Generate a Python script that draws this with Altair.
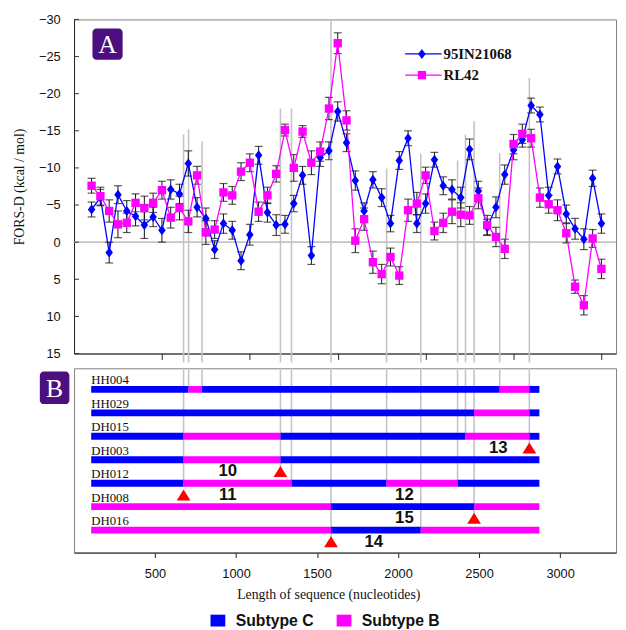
import altair as alt
import pandas as pd

# ---------------- data ----------------
windows = list(range(2, 61))
series_names = ["95IN21068", "RL42"]
series_colors = ["#0000FF", "#FF00FF"]

blue_vals = [-4.4, -6.0, 1.4, -6.4, -4.2, -3.5, -2.3, -3.4, -1.6, -7.1,
             -6.5, -10.6, -4.7, -3.2, 1.0, -2.5, -1.6, 2.5, -1.0, -11.7,
             -4.0, -2.3, -2.4, -5.2, -9.0, 1.8, -11.4, -12.3, -17.6, -13.4,
             -8.3, -4.2, -8.4, -6.0, -2.5, -11.0, -14.0, -2.5, -5.2, -11.1,
             -7.6, -7.1, -6.0, -12.5, -6.9, -2.0, -4.7, -9.1, -12.4, -13.8,
             -18.4, -17.2, -6.3, -10.2, -3.8, -1.8, -0.4, -8.6, -2.5]
pink_vals = [-7.6, -6.2, -4.2, -2.4, -2.6, -5.3, -4.6, -5.3, -7.0, -3.3,
             -4.6, -2.8, -9.0, -1.3, -1.7, -6.7, -6.3, -9.5, -10.7, -4.1,
             -6.3, -9.2, -15.1, -10.0, -14.9, -10.7, -12.2, -18.0, -26.8, -16.4,
             -0.2, -3.1, 2.7, 4.3, 2.0, 4.5, -4.3, -5.2, -9.0, -1.5,
             -2.6, -4.1, -3.7, -3.6, -5.9, -2.3, -0.7, 0.9, -13.2, -14.6,
             -14.0, -6.0, -5.1, -4.3, -1.2, 6.0, 8.5, -0.5, 3.6]
blue_err = [1.0, 1.1, 1.4, 1.2, 1.4, 1.3, 1.8, 1.3, 1.6, 1.3,
            1.3, 1.7, 1.3, 1.4, 1.2, 1.3, 1.2, 1.2, 1.4, 1.2,
            1.3, 1.4, 1.2, 1.1, 1.2, 1.2, 1.2, 1.2, 1.3, 1.2,
            1.3, 1.1, 1.1, 1.2, 1.1, 1.2, 1.0, 1.2, 1.3, 1.0,
            1.2, 1.3, 1.4, 1.4, 1.3, 1.1, 1.4, 1.3, 1.3, 1.0,
            1.0, 1.0, 1.1, 1.0, 1.2, 1.4, 1.4, 1.1, 1.3]
pink_err = [1.0, 1.2, 1.5, 1.8, 1.3, 1.2, 1.6, 1.3, 1.2, 1.4,
            1.6, 1.5, 1.2, 1.6, 1.2, 1.2, 1.2, 1.2, 1.2, 1.3,
            1.1, 1.1, 0.8, 1.8, 0.8, 1.6, 1.3, 1.5, 1.4, 1.3,
            1.6, 1.5, 1.5, 1.3, 1.2, 1.2, 1.5, 1.5, 1.1, 1.2,
            1.3, 1.6, 1.6, 1.2, 1.4, 1.3, 1.3, 1.3, 1.3, 1.3,
            1.2, 1.3, 1.2, 1.4, 1.3, 0.9, 1.3, 1.2, 1.3]

y_ticks = [-30, -25, -20, -15, -10, -5, 0, 5, 10, 15]
a_x_ticks = [10, 20, 30, 40, 50, 60]
b_x_ticks = [500, 1000, 1500, 2000, 2500, 3000]

# breakpoints (nucleotides), top of guide line in panel A, end row in panel B
bp_nt = [676, 707, 790, 1274, 1342, 1586, 1929, 2140, 2367, 2416, 2469, 2627, 2810]
bp_top = [-14.5, -15.2, -13.6, -18.0, -18.0, -30.0, -9.9, -11.9, -11.0, -14.5, -16.3, -12.0, -22.1]
bp_end = [4.9, 0.9, 0.9, 4.4, 4.9, 7.4, 4.9, 6.9, 4.9, 2.9, 6.4, 0.9, 3.4]

isolates = ["HH004", "HH029", "DH015", "DH003", "DH012", "DH008", "DH016"]
row_pos = [0.9, 1.9, 2.9, 3.9, 4.9, 5.9, 6.9]
seg_bounds = [[106, 707, 790, 2627, 2810, 2872],
              [106, 2469, 2810, 2872],
              [106, 676, 1274, 2416, 2810, 2872],
              [106, 676, 1274, 2872],
              [106, 676, 1342, 1929, 2367, 2872],
              [106, 1586, 2469, 2872],
              [106, 1586, 2140, 2872]]
seg_types = ["CBCBC", "CBC", "CBCBC", "CBC", "CBCBC", "BCB", "BCB"]
subtype_names = {"C": "Subtype C", "B": "Subtype B"}
subtype_colors = ["#0000FF", "#FF00FF"]

tri_nt = [2810, 1274, 676, 2469, 1586]
tri_pos = [3.4, 4.4, 5.4, 6.4, 7.4]
num_text = ["13", "10", "11", "12", "15", "14"]
num_nt = [2618, 949, 949, 2039, 2039, 1850]
num_pos = [3.4, 4.4, 5.4, 5.4, 6.4, 7.4]

# ---------------- tables ----------------
rows = []
for name, vals, errs in [(series_names[0], blue_vals, blue_err), (series_names[1], pink_vals, pink_err)]:
    for w, v, e in zip(windows, vals, errs):
        rows.append({"win": w, "val": v, "lo": v - e, "hi": v + e, "series": name})
fors = pd.DataFrame(rows)
bp_df = pd.DataFrame({"nt": bp_nt, "top": bp_top, "end": bp_end})
ytick_df = pd.DataFrame({"v": y_ticks})
zero_df = pd.DataFrame({"v": [0]})

segs = []
for name, pos, bnds, types in zip(isolates, row_pos, seg_bounds, seg_types):
    for i, t in enumerate(types):
        segs.append({"isolate": name, "pos": pos, "start": bnds[i], "end": bnds[i + 1],
                     "subtype": subtype_names[t]})
seg_df = pd.DataFrame(segs)
lab_df = pd.DataFrame({"name": isolates, "x": [s[0] for s in seg_bounds],
                       "pos": [p - 0.38 for p in row_pos]})
tri_df = pd.DataFrame({"nt": tri_nt, "pos": tri_pos})
num_df = pd.DataFrame({"t": num_text, "nt": num_nt, "pos": num_pos})
one = pd.DataFrame({"k": [0]})

# ---------------- layout ----------------
W, HA, HB = 550, 339, 187
GAP = 9
PURPLE = "#4B0F7F"
SERIF = "Liberation Serif"
SANS = "Liberation Sans"

xA = alt.Scale(domain=[0, 61.66], nice=False, zero=False)
xNT = alt.Scale(domain=[0, 3345], nice=False, zero=False)
yA = alt.Scale(domain=[-30, 15], reverse=True, nice=False, zero=False)
yB = alt.Scale(domain=[0, 7.86], reverse=True, nice=False, zero=False, padding=0)

axYA = alt.Axis(values=y_ticks, ticks=False, labelPadding=14, labelFlush=False,
                labelOverlap=False, title="FORS-D (kcal / mol)", titleX=-48, titleY=HA / 2,
                grid=False)
axXA = alt.Axis(values=a_x_ticks, labels=False, ticks=True, tickSize=6, title=None, grid=False)
axXB = alt.Axis(values=b_x_ticks, format="d", tickSize=5, labelPadding=10, labelFlush=False,
                title="Length of sequence (nucleotides)", titleX=258, titleY=36, grid=False)

colA = alt.Color("series:N", scale=alt.Scale(domain=series_names, range=series_colors), legend=None)
shpA = alt.Shape("series:N", scale=alt.Scale(domain=series_names,
                 range=["M0,-1.2L0.9,0L0,1.2L-0.9,0Z", "square"]), legend=None)

# ---- panel A ----
guideA = alt.Chart(bp_df).mark_rule(color="#c4c4c4", strokeWidth=1.6).encode(
    x=alt.X("nt:Q", scale=xNT, axis=None),
    y=alt.Y("top:Q", scale=yA, axis=axYA),
    y2=alt.value(HA + GAP),
)
zeroA = alt.Chart(zero_df).mark_rule(color="#c4c4c4", strokeWidth=1.6).encode(
    y=alt.Y("v:Q", scale=yA, axis=axYA))
ticksA = alt.Chart(ytick_df).mark_rule(color="#333").encode(
    y=alt.Y("v:Q", scale=yA, axis=axYA), x=alt.value(0), x2=alt.value(5))
errA = alt.Chart(fors).mark_rule(color="#111", strokeWidth=1).encode(
    x=alt.X("win:Q", scale=xA, axis=axXA),
    y=alt.Y("lo:Q", scale=yA, axis=axYA), y2="hi:Q")
capLo = alt.Chart(fors).mark_tick(orient="horizontal", size=8, thickness=1.2, color="#111").encode(
    x=alt.X("win:Q", scale=xA, axis=axXA), y=alt.Y("lo:Q", scale=yA, axis=axYA))
capHi = alt.Chart(fors).mark_tick(orient="horizontal", size=8, thickness=1.2, color="#111").encode(
    x=alt.X("win:Q", scale=xA, axis=axXA), y=alt.Y("hi:Q", scale=yA, axis=axYA))
lineA = alt.Chart(fors).mark_line(strokeWidth=1.3).encode(
    x=alt.X("win:Q", scale=xA, axis=axXA), y=alt.Y("val:Q", scale=yA, axis=axYA),
    color=colA, detail="series:N")
ptsA = alt.Chart(fors).mark_point(filled=True, opacity=1, size=72).encode(
    x=alt.X("win:Q", scale=xA, axis=axXA), y=alt.Y("val:Q", scale=yA, axis=axYA),
    color=colA, shape=shpA)

legA = []
leg_shapes = ["M0,-1.2L0.9,0L0,1.2L-0.9,0Z", "square"]
for i, (nm, c) in enumerate(zip(series_names, series_colors)):
    yy = 35 + 21.5 * i
    d = pd.DataFrame({"name": [nm]})
    legA.append(alt.Chart(d).mark_rule(color=c, strokeWidth=1.3).encode(
        x=alt.value(336), x2=alt.value(373), y=alt.value(yy)))
    legA.append(alt.Chart(d).mark_point(filled=True, opacity=1, size=72, color=c,
                                        shape=leg_shapes[i]).encode(
        x=alt.value(353), y=alt.value(yy)))
    legA.append(alt.Chart(d).mark_text(align="left", baseline="middle", font=SERIF,
                                       fontSize=15, fontWeight="bold", color="#111").encode(
        x=alt.value(375), y=alt.value(yy), text="name:N"))

badgeA = alt.Chart(one).mark_rect(cornerRadius=4, color=PURPLE).encode(
    x=alt.value(18.7), x2=alt.value(49.3), y=alt.value(9.3), y2=alt.value(40.8))
badgeAtxt = alt.Chart(one).mark_text(font=SERIF, fontSize=26, color="white",
                                     baseline="middle", align="center").encode(
    x=alt.value(34), y=alt.value(26), text=alt.value("A"))

innerA = alt.layer(zeroA, ticksA, errA, capLo, capHi, lineA, ptsA, badgeA, badgeAtxt, *legA)
panelA = alt.layer(guideA, innerA).resolve_scale(x="independent").properties(width=W, height=HA)

# ---- panel B ----
guideB = alt.Chart(bp_df).mark_rule(color="#c4c4c4", strokeWidth=1.6).encode(
    x=alt.X("nt:Q", scale=xNT, axis=axXB),
    y=alt.Y("end:Q", scale=yB, axis=None), y2=alt.value(0))
barsB = alt.Chart(seg_df).mark_bar(size=7, orient="horizontal").encode(
    x=alt.X("start:Q", scale=xNT, axis=axXB), x2="end:Q",
    y=alt.Y("pos:Q", scale=yB, axis=None),
    color=alt.Color("subtype:N",
                    scale=alt.Scale(domain=["Subtype C", "Subtype B"], range=subtype_colors),
                    legend=alt.Legend(title=None, orient="none", direction="horizontal",
                                      legendX=138, legendY=248,
                                      symbolType="M-1,-0.8H1V0.8H-1Z", symbolSize=225,
                                      symbolStrokeWidth=0, labelFont=SANS, labelFontSize=16,
                                      labelFontWeight="bold", labelColor="#111",
                                      labelOffset=10, columnPadding=22, padding=0)))
labB = alt.Chart(lab_df).mark_text(align="left", baseline="middle", font=SERIF,
                                   fontSize=13, color="#111").encode(
    x=alt.X("x:Q", scale=xNT, axis=axXB), y=alt.Y("pos:Q", scale=yB, axis=None), text="name:N")
triB = alt.Chart(tri_df).mark_point(shape="M0,-0.8L1,0.8L-1,0.8Z", filled=True, opacity=1,
                                    size=196, color="#FF0000").encode(
    x=alt.X("nt:Q", scale=xNT, axis=axXB), y=alt.Y("pos:Q", scale=yB, axis=None))
numB = alt.Chart(num_df).mark_text(font="Liberation Sans Narrow, Arial Narrow, Liberation Sans",
                                   fontSize=17, fontWeight="bold", color="#111",
                                   baseline="middle", align="center").encode(
    x=alt.X("nt:Q", scale=xNT, axis=axXB), y=alt.Y("pos:Q", scale=yB, axis=None), text="t:N")
badgeB = alt.Chart(one).mark_rect(cornerRadius=4, color=PURPLE).encode(
    x=alt.value(-34.7), x2=alt.value(-4.7), y=alt.value(3.3), y2=alt.value(36.3))
badgeBtxt = alt.Chart(one).mark_text(font=SERIF, fontSize=26, color="white",
                                     baseline="middle", align="center").encode(
    x=alt.value(-19.7), y=alt.value(21), text=alt.value("B"))

panelB = alt.layer(guideB, barsB, labB, triB, numB, badgeB, badgeBtxt).properties(width=W, height=HB)

chart = alt.vconcat(panelA, panelB, spacing=2).resolve_scale(
    x="independent", y="independent", color="independent", shape="independent"
).properties(
    padding={"left": 4, "top": 0, "right": 0, "bottom": 0},
    background="white",
).configure_view(
    stroke="#808080", strokeWidth=1
).configure_axis(
    labelFont=SANS, labelFontSize=13, labelColor="#111",
    titleFont=SERIF, titleFontSize=14, titleFontWeight="normal", titleColor="#111",
    domainColor="#222", tickColor="#222", grid=False
)

chart.save("out.html", embed_options={"renderer": "svg", "actions": False})
